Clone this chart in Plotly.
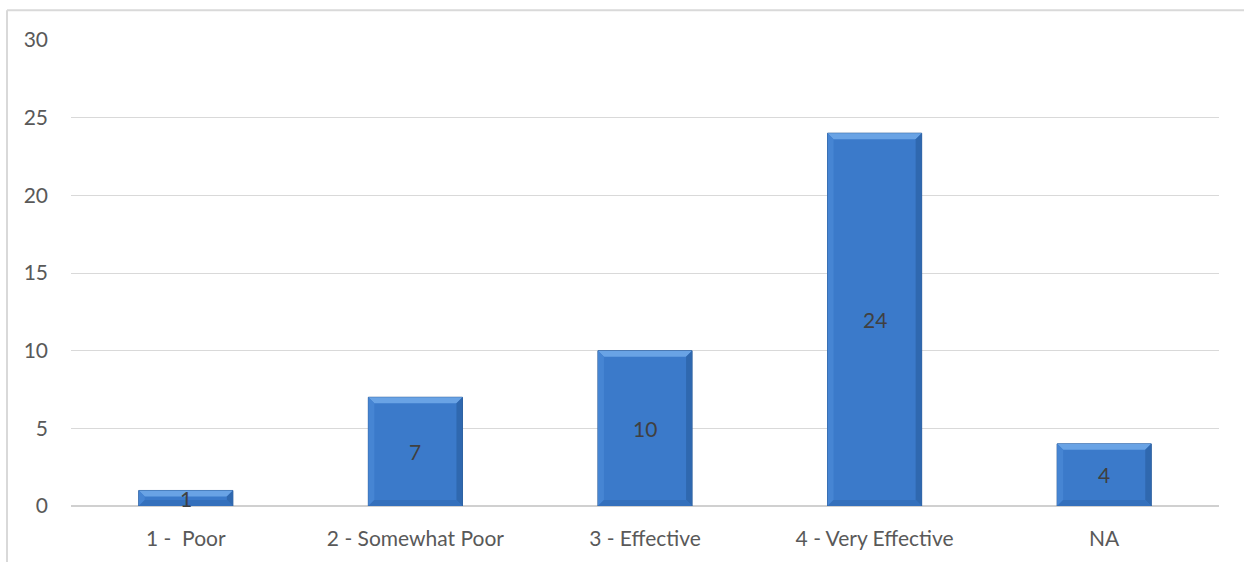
import plotly.graph_objects as go

# Survey responses by rating
categories = ["1 -  Poor", "2 - Somewhat Poor", "3 - Effective", "4 - Very Effective", "NA"]
counts = [1, 7, 10, 24, 4]
y_ticks = [0, 5, 10, 15, 20, 25, 30]

W, H = 1244, 562
M_L, M_R, M_T, M_B = 71, 25, 40, 54
Y_MAX = 30
BAR_W = 0.41

plot_w = W - M_L - M_R
plot_h = H - M_T - M_B
# bevel depth of ~6 px expressed in axis units
bev_x = 6 / (plot_w / len(categories))
bev_y = 6 * Y_MAX / plot_h

FONT = "Lato, Open Sans, sans-serif"
FS = 21
TXT = "#595959"

fig = go.Figure()
fig.add_trace(go.Bar(
    x=list(range(len(categories))), y=counts, width=BAR_W,
    marker=dict(color="#3B7ACA", line=dict(color="#2C5C98", width=1)),
    hoverinfo="skip", showlegend=False,
))

shapes = []
for i, v in enumerate(counts):
    x0, x1 = i - BAR_W / 2, i + BAR_W / 2
    by = min(bev_y, v / 2)
    bx = bev_x
    faces = [
        # top, left, right, bottom bevel faces
        (f"M {x0},{v} L {x1},{v} L {x1-bx},{v-by} L {x0+bx},{v-by} Z", "#69A3E5"),
        (f"M {x0},{v} L {x0+bx},{v-by} L {x0+bx},{by} L {x0},0 Z", "#4685D3"),
        (f"M {x1},{v} L {x1-bx},{v-by} L {x1-bx},{by} L {x1},0 Z", "#2F68AF"),
        (f"M {x0},0 L {x1},0 L {x1-bx},{by} L {x0+bx},{by} Z", "#3470BC"),
    ]
    for path, col in faces:
        shapes.append(dict(type="path", path=path, xref="x", yref="y",
                           fillcolor=col, line=dict(width=0), layer="above"))

# chart frame: top and left edges
px_to_paper_x = lambda px: (px - M_L) / plot_w
px_to_paper_y = lambda py: (H - M_B - py) / plot_h
shapes.append(dict(type="line", xref="paper", yref="paper",
                   x0=px_to_paper_x(7), x1=px_to_paper_x(1250),
                   y0=px_to_paper_y(10), y1=px_to_paper_y(10),
                   line=dict(color="#d9d9d9", width=2)))
shapes.append(dict(type="line", xref="paper", yref="paper",
                   x0=px_to_paper_x(7), x1=px_to_paper_x(7),
                   y0=px_to_paper_y(10), y1=px_to_paper_y(570),
                   line=dict(color="#d9d9d9", width=2)))

# value labels centred on each bar
annotations = [
    dict(x=i, y=v / 2, xref="x", yref="y", text=str(v), showarrow=False,
         font=dict(family=FONT, size=FS, color="#404040"))
    for i, v in enumerate(counts)
]

fig.update_layout(
    width=W, height=H,
    margin=dict(l=M_L, r=M_R, t=M_T, b=M_B),
    paper_bgcolor="white", plot_bgcolor="white",
    bargap=1 - BAR_W,
    shapes=shapes,
    annotations=annotations,
    font=dict(family=FONT, size=FS, color=TXT),
    xaxis=dict(
        tickmode="array", tickvals=list(range(len(categories))), ticktext=categories,
        range=[-0.5, len(categories) - 0.5], showgrid=False, zeroline=False,
        showline=False, ticks="", ticklabelstandoff=18,
        tickfont=dict(size=FS, color=TXT),
    ),
    yaxis=dict(
        range=[0, Y_MAX], tickvals=y_ticks, showgrid=True, gridcolor="#d9d9d9",
        gridwidth=1, zeroline=True, zerolinecolor="#d0d0d0", zerolinewidth=2,
        showline=False, ticks="", ticklabelstandoff=22,
        tickfont=dict(size=FS, color=TXT),
    ),
)

fig.write_html("out.html")
